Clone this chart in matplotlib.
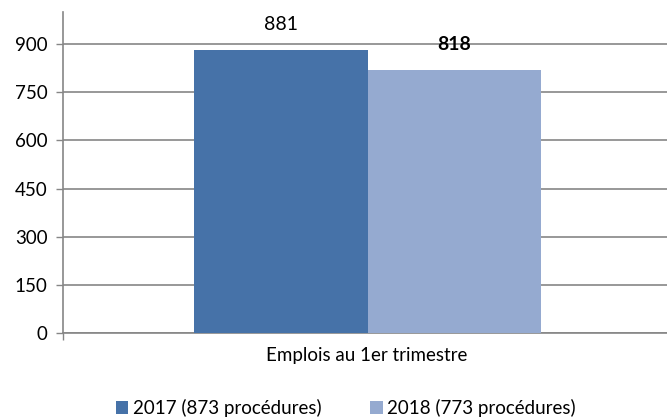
import matplotlib
matplotlib.use("Agg")
import matplotlib.pyplot as plt
from matplotlib.patches import Patch

plt.rcParams['font.family'] = ['Lato', 'DejaVu Sans']

category = "Emplois au 1er trimestre"
series = ["2017 (873 procédures)", "2018 (773 procédures)"]
values = [881, 818]
colors = ["#4672A8", "#95AAD0"]
label_weights = ["normal", "bold"]
yticks = [0, 150, 300, 450, 600, 750, 900]

fig = plt.figure(figsize=(6.67, 4.19), dpi=100)
ax = fig.add_axes([63/667, (419-333)/419, 609/667, (333-12)/419])

w = 0.285
offsets = [-w/2, w/2]
grid_c = "#868686"
for v, c, o, fw in zip(values, colors, offsets, label_weights):
    ax.bar(o, v, width=w, color=c, zorder=3)
    ax.annotate(str(v), (o, v), xytext=(0, 18.7), textcoords="offset points",
                ha="center", va="center", fontsize=14, fontweight=fw, color="black")

ax.set_xlim(-0.5, 0.5)
ax.set_ylim(0, 1000)
ax.set_yticks(yticks)
ax.set_yticklabels([str(t) for t in yticks], fontsize=13.5)
ax.yaxis.grid(True, color=grid_c, linewidth=1.2, zorder=0)
ax.set_axisbelow(True)
ax.set_xticks([-0.5, 0.5])
ax.set_xticklabels(["", ""])
ax.tick_params(axis="both", direction="out", length=5, color=grid_c, width=1)
ax.tick_params(axis="y", pad=6)
for s in ["top", "right"]:
    ax.spines[s].set_visible(False)
for s in ["left", "bottom"]:
    ax.spines[s].set_color(grid_c)
    ax.spines[s].set_linewidth(1.2)

fig.text(367/667, 1 - 355/419, category, ha="center", va="center", fontsize=13.5)

handles = [Patch(facecolor=c, edgecolor="none") for c in colors]
fig.legend(handles, series, loc="center", bbox_to_anchor=(346/667, 1 - 408/419),
           ncol=2, frameon=False, fontsize=13.5, handlelength=0.65, handleheight=0.65,
           handletextpad=0.25, columnspacing=2.6)

fig.savefig("out.png", dpi=100)
